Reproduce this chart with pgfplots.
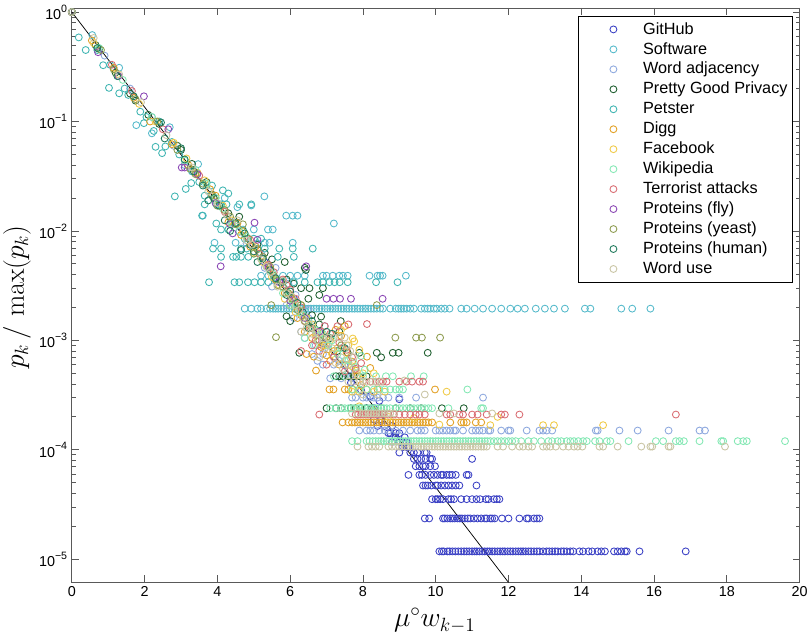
\documentclass[border=0pt]{standalone}
\usepackage[no-math]{fontspec}
\setmainfont{Liberation Sans}
\usepackage{pgfplots}
\pgfplotsset{compat=1.18}
\definecolor{cGit}{HTML}{3A40C4}
\definecolor{cSoft}{HTML}{55BACB}
\definecolor{cAdj}{HTML}{8DA8DE}
\definecolor{cPGP}{HTML}{1F5F30}
\definecolor{cPet}{HTML}{40B5B2}
\definecolor{cDigg}{HTML}{E2A024}
\definecolor{cFb}{HTML}{F0CA48}
\definecolor{cWiki}{HTML}{84E8B4}
\definecolor{cTer}{HTML}{D96C72}
\definecolor{cFly}{HTML}{8A46B4}
\definecolor{cYeast}{HTML}{8E9C50}
\definecolor{cHum}{HTML}{1F7A5C}
\definecolor{cUse}{HTML}{C9C5A4}
\newcommand{\ytl}[1]{10\raisebox{0.5em}{\footnotesize #1}}
\begin{document}
\begin{tikzpicture}
\path (-54pt,-40.5pt) rectangle (555pt,437.25pt);
\begin{axis}[
  at={(0,0)}, anchor=south west, scale only axis,
  width=546.75pt, height=431.25pt,
  ymode=log, xmin=0, xmax=20, ymin=6.2e-6, ymax=1.09,
  clip=false,
  axis line style={black!65, line width=0.7pt},
  tick style={black!65, line width=0.6pt},
  major tick length=5pt, minor tick length=2.8pt,
  tick align=inside, xtick pos=both, ytick pos=both,
  xtick={0,2,4,6,8,10,12,14,16,18,20},
  xticklabels={0,2,4,6,8,10,12,14,16,18,20},
  ytick={1e-5,1e-4,1e-3,1e-2,1e-1,1},
  yticklabels={\ytl{−5},\ytl{−4},\ytl{−3},\ytl{−2},\ytl{−1},\ytl{0}},
  ticklabel style={font=\fontsize{10.8}{12}\selectfont},
  xlabel={$\mu^{\circ} w_{k-1}$},
  ylabel={$p_k\,/\,\max(p_k)$},
  xlabel style={overlay, font=\fontsize{22.5}{26}\selectfont, at={(axis description cs:0.5,0)}, anchor=base, inner sep=0pt, yshift=-33.75pt, xshift=-0.75pt},
  ylabel style={overlay, font=\fontsize{22}{26}\selectfont, at={(axis description cs:0,0.5)}, anchor=base, inner sep=0pt, yshift=36pt, xshift=-1.5pt},
  legend cell align=left,
  legend style={at={(0.6955,0.986)}, anchor=north west, draw=black, line width=0.6pt,
    inner xsep=3.75pt, inner ysep=2.25pt, row sep=0pt, fill=white,
    nodes={inner sep=0pt, font=\fontsize{12.2}{14}\selectfont, text height=11pt, text depth=4pt}},
  legend image code/.code={\path (3.75pt,0pt) (48pt,0pt); \draw[#1] plot coordinates {(26pt,0pt)};},
  every axis plot/.append style={only marks, mark=o, mark size=2.6pt, line width=0.65pt},
]
\addplot[cGit] coordinates {
(10.1,1.18e-5)(10.17,1.18e-5)(10.22,1.18e-5)(10.32,1.18e-5)(10.38,1.18e-5)(10.46,1.18e-5)(10.54,1.18e-5)(10.62,1.18e-5)(10.7,1.18e-5)(10.78,1.18e-5)(10.85,1.18e-5)(10.92,1.18e-5)(11.0,1.18e-5)(11.07,1.18e-5)(11.13,1.18e-5)(11.2,1.18e-5)(11.28,1.18e-5)(11.35,1.18e-5)(11.42,1.18e-5)(11.48,1.18e-5)(11.55,1.18e-5)(11.62,1.18e-5)(11.7,1.18e-5)(11.77,1.18e-5)(11.84,1.18e-5)(11.9,1.18e-5)(11.98,1.18e-5)(12.05,1.18e-5)(12.12,1.18e-5)(12.2,1.18e-5)(12.27,1.18e-5)(12.34,1.18e-5)(12.4,1.18e-5)(12.47,1.18e-5)(12.55,1.18e-5)(12.62,1.18e-5)(12.7,1.18e-5)(12.78,1.18e-5)(12.85,1.18e-5)(12.95,1.18e-5)(13.05,1.18e-5)(13.12,1.18e-5)(13.2,1.18e-5)(13.28,1.18e-5)(13.35,1.18e-5)(13.45,1.18e-5)(13.52,1.18e-5)(13.6,1.18e-5)(13.7,1.18e-5)(13.78,1.18e-5)(13.95,1.18e-5)(14.05,1.18e-5)(14.2,1.18e-5)(14.3,1.18e-5)(14.45,1.18e-5)(14.55,1.18e-5)(14.65,1.18e-5)(14.9,1.18e-5)(15.0,1.18e-5)(15.1,1.18e-5)(15.2,1.18e-5)(15.25,1.18e-5)(15.6,1.18e-5)(16.87,1.18e-5)
(9.7,2.36e-5)(9.82,2.36e-5)(10.2,2.36e-5)(10.25,2.36e-5)(10.32,2.36e-5)(10.4,2.36e-5)(10.46,2.36e-5)(10.52,2.36e-5)(10.6,2.36e-5)(10.66,2.36e-5)(10.72,2.36e-5)(10.8,2.36e-5)(10.88,2.36e-5)(10.95,2.36e-5)(11.05,2.36e-5)(11.15,2.36e-5)(11.25,2.36e-5)(11.35,2.36e-5)(11.4,2.36e-5)(11.5,2.36e-5)(11.55,2.36e-5)(11.62,2.36e-5)(11.82,2.36e-5)(12.0,2.36e-5)(12.3,2.36e-5)(12.5,2.36e-5)(12.55,2.36e-5)(12.7,2.36e-5)(12.78,2.36e-5)(12.85,2.36e-5)
(9.9,3.54e-5)(10.0,3.54e-5)(10.05,3.54e-5)(10.12,3.54e-5)(10.2,3.54e-5)(10.35,3.54e-5)(10.42,3.54e-5)(10.5,3.54e-5)(10.7,3.54e-5)(10.85,3.54e-5)(11.0,3.54e-5)(11.12,3.54e-5)(11.22,3.54e-5)(11.38,3.54e-5)(11.45,3.54e-5)(11.6,3.54e-5)(11.68,3.54e-5)(11.75,3.54e-5)
(9.65,4.72e-5)(9.72,4.72e-5)(9.78,4.72e-5)(9.88,4.72e-5)(10.0,4.72e-5)(10.05,4.72e-5)(10.15,4.72e-5)(10.25,4.72e-5)(10.35,4.72e-5)(10.45,4.72e-5)(10.55,4.72e-5)(10.65,4.72e-5)(11.12,4.72e-5)
(9.25,5.9e-5)(9.55,5.9e-5)(9.62,5.9e-5)(9.72,5.9e-5)(9.85,5.9e-5)(9.95,5.9e-5)(10.05,5.9e-5)(10.15,5.9e-5)(10.2,5.9e-5)(10.3,5.9e-5)(10.38,5.9e-5)(10.45,5.9e-5)(10.55,5.9e-5)(10.85,5.9e-5)(10.9,5.9e-5)
(9.45,7.08e-5)(9.55,7.08e-5)(9.65,7.08e-5)(9.72,7.08e-5)(9.85,7.08e-5)(9.98,7.08e-5)
(9.4,8.26e-5)(9.5,8.26e-5)(9.6,8.26e-5)(9.72,8.26e-5)(9.85,8.26e-5)(9.9,8.26e-5)(11.0,8.26e-5)
(9.0,9.44e-5)(9.3,9.44e-5)(9.4,9.44e-5)(9.5,9.44e-5)(9.7,9.44e-5)(9.75,9.44e-5)
(9.1,1.06e-4)(9.2,1.06e-4)(9.25,1.06e-4)(8.8,1.18e-4)(9.0,1.18e-4)(9.1,1.18e-4)(9.2,1.18e-4)(8.9,1.3e-4)(9.15,1.3e-4)(8.7,1.42e-4)(8.75,1.42e-4)(8.9,1.42e-4)(9.0,1.42e-4)(8.4,1.65e-4)(8.6,1.65e-4)(8.8,1.65e-4)(8.3,1.9e-4)(8.5,1.9e-4)(8.1,2.4e-4)(8.3,2.4e-4)(8.45,2.8e-4)(9.0,2.9e-4)(8.2,3.1e-4)(7.95,3.5e-4)(7.67,4.1e-4)(7.65,4.7e-4)(7.5,5.9e-4)(7.2,7.1e-4)(6.9,9.4e-4)(6.7,1.2e-3)(6.3,1.8e-3)(6.1,2.4e-3)(5.7,3.5e-3)(5.3,5.2e-3)
};
\addlegendentry{GitHub}
\addplot[cSoft] coordinates {
(0.56,.617)(1.3,.31)(1.77,.0926)(2.2,.078)(2.69,.0887)(3.47,.0408)(5.29,.0207)(4.93,.0171)(3.6,.0138)(5.89,.0138)(6.07,.0138)(6.2,.0138)(7.2,.0117)
(4.75,1.95e-3)(4.93,1.95e-3)(5.1,1.95e-3)(5.2,1.95e-3)(5.35,1.95e-3)(5.45,1.95e-3)(5.53,1.95e-3)(5.6,1.95e-3)(5.67,1.95e-3)(5.75,1.95e-3)(5.82,1.95e-3)(5.9,1.95e-3)(5.98,1.95e-3)(6.05,1.95e-3)(6.12,1.95e-3)(6.2,1.95e-3)(6.28,1.95e-3)(6.35,1.95e-3)(6.42,1.95e-3)(6.5,1.95e-3)(6.57,1.95e-3)(6.65,1.95e-3)(6.72,1.95e-3)(6.8,1.95e-3)(6.87,1.95e-3)(6.95,1.95e-3)(7.02,1.95e-3)(7.1,1.95e-3)(7.17,1.95e-3)(7.24,1.95e-3)(7.32,1.95e-3)(7.4,1.95e-3)(7.47,1.95e-3)(7.55,1.95e-3)(7.62,1.95e-3)(7.7,1.95e-3)(7.77,1.95e-3)(7.85,1.95e-3)(7.92,1.95e-3)(8.0,1.95e-3)(8.07,1.95e-3)(8.14,1.95e-3)(8.22,1.95e-3)(8.3,1.95e-3)(8.38,1.95e-3)(8.47,1.95e-3)(8.55,1.95e-3)(8.75,1.95e-3)(8.9,1.95e-3)(8.98,1.95e-3)(9.05,1.95e-3)(9.12,1.95e-3)(9.2,1.95e-3)(9.3,1.95e-3)(9.4,1.95e-3)(9.6,1.95e-3)(9.7,1.95e-3)(9.78,1.95e-3)(9.85,1.95e-3)(9.95,1.95e-3)(10.03,1.95e-3)(10.15,1.95e-3)(10.25,1.95e-3)(10.38,1.95e-3)(10.7,1.95e-3)(10.85,1.95e-3)(11.07,1.95e-3)(11.3,1.95e-3)(11.55,1.95e-3)(11.8,1.95e-3)(12.05,1.95e-3)(12.25,1.95e-3)(12.45,1.95e-3)(12.75,1.95e-3)(13.0,1.95e-3)(13.25,1.95e-3)(13.55,1.95e-3)(14.1,1.95e-3)(14.25,1.95e-3)(15.1,1.95e-3)(15.4,1.95e-3)(15.9,1.95e-3)
(5.2,3.9e-3)(5.4,3.9e-3)(5.55,3.9e-3)(5.8,3.9e-3)(6.0,3.9e-3)(6.2,3.9e-3)(6.4,3.9e-3)(6.9,3.9e-3)(7.0,3.9e-3)(7.17,3.9e-3)(7.35,3.9e-3)(7.45,3.9e-3)(7.58,3.9e-3)(8.18,3.9e-3)(8.4,3.9e-3)(8.47,3.9e-3)(8.54,3.9e-3)(9.18,3.9e-3)
(3.92,.0078)(4.5,.0078)(5.3,.0078)(5.43,.0078)(6.07,.0078)(4.7,.0103)(5.0,.0103)(5.39,.0103)(5.52,.0103)(3.1,.04)(3.7,.026)(4.2,.02)(4.55,.0165)
};
\addlegendentry{Software}
\addplot[cAdj] coordinates {
(7.9,1.5e-4)(8.1,1.5e-4)(8.2,1.5e-4)(8.3,1.5e-4)(8.45,1.5e-4)(8.6,1.5e-4)(8.7,1.5e-4)(8.9,1.5e-4)(9.1,1.5e-4)(9.3,1.5e-4)(9.5,1.5e-4)(9.6,1.5e-4)(9.7,1.5e-4)(10.0,1.5e-4)(10.1,1.5e-4)(10.2,1.5e-4)(10.3,1.5e-4)(10.4,1.5e-4)(10.5,1.5e-4)(10.55,1.5e-4)(10.75,1.5e-4)(11.0,1.5e-4)(11.1,1.5e-4)(11.2,1.5e-4)(11.3,1.5e-4)(11.45,1.5e-4)(11.5,1.5e-4)(11.8,1.5e-4)(12.0,1.5e-4)(12.05,1.5e-4)(12.5,1.5e-4)(12.85,1.5e-4)(12.95,1.5e-4)(13.05,1.5e-4)(13.2,1.5e-4)(14.4,1.5e-4)(14.45,1.5e-4)(15.05,1.5e-4)(15.55,1.5e-4)(16.4,1.5e-4)(17.25,1.5e-4)(17.4,1.5e-4)
(7.7,3e-4)(7.8,3e-4)(8.0,3e-4)(8.1,3e-4)(8.2,3e-4)(8.3,3e-4)(8.4,3e-4)(8.55,3e-4)(8.7,3e-4)(9.0,3e-4)(9.46,3e-4)(11.3,3e-4)(7.1,4.5e-4)(7.4,4.5e-4)(7.7,4.5e-4)(6.9,6e-4)(7.2,6e-4)(7.5,6e-4)(6.6,7.5e-4)(6.9,7.5e-4)(6.7,9e-4)(7.0,9e-4)(6.3,1.2e-3)(6.7,1.2e-3)(6.1,1.6e-3)(6.5,1.6e-3)(5.9,2.1e-3)(6.3,2.1e-3)(5.5,3.1e-3)(5.8,3.1e-3)(5.3,4.6e-3)(5.6,4.6e-3)(4.8,7.7e-3)(5.1,7.7e-3)(4.4,.012)(3.9,.02)(3.3,.036)(2.8,.06)(2.2,.11)(1.6,.2)(0.9,.4)(0,1)
(6.4,1.05e-3)(6.75,6.5e-4)(7.05,8.3e-4)(7.35,6.5e-4)(7.6,5.2e-4)(6.95,1.35e-3)(6.5,1.9e-3)(6.15,2.6e-3)(5.95,3.3e-3)(5.2,6.2e-3)(4.6,.0098)
};
\addlegendentry{Word adjacency}
\addplot[cPGP] coordinates {
(0,1)(0.65,.5)(0.75,.46)(1.2,.28)(1.6,.18)(1.75,.155)(2.1,.115)(2.4,.095)(2.9,.06)(3.0,.055)(3.3,.041)(3.7,.028)(3.85,.0215)(4.3,.0145)(4.6,.0135)(4.7,.01)(5.1,.0075)(5.3,.0063)(5.5,.0055)(5.85,.0052)(5.9,.0036)(5.6,.0036)(6.1,.0033)(6.3,.003)(6.5,.0024)(6.6,.0017)(6.8,.0014)
(5.9,1.66e-3)(6.0,1.5e-3)(6.9,3e-3)(6.53,3e-3)(6.8,2.6e-3)(6.4,4.6e-3)(6.43,4.4e-3)(7.39,1.5e-3)(6.85,1.65e-3)(7.35,1.2e-3)(7.1,1.05e-3)(7.3,8e-4)(6.25,7.7e-4)(7.58,7.7e-4)(7.9,7.7e-4)(8.38,7.7e-4)(8.5,7e-4)(8.82,7.7e-4)(8.98,7.7e-4)(9.78,7.7e-4)
(7.26,4.7e-4)(7.35,4.7e-4)(7.45,4.7e-4)(7.6,4.7e-4)(7.75,4.7e-4)(7.9,4.7e-4)(8.1,4.7e-4)
(7.0,2.4e-4)(7.26,2.4e-4)(7.4,2.4e-4)(7.67,2.4e-4)(7.8,2.4e-4)(7.95,2.4e-4)(8.1,2.4e-4)(8.25,2.4e-4)(8.5,2.4e-4)(8.9,2.4e-4)(9.3,2.4e-4)(9.6,2.4e-4)(10.17,2.4e-4)(10.77,2.4e-4)
};
\addlegendentry{Pretty Good Privacy}
\addplot[cPet] coordinates {
(0.19,.587)(0.38,.45)(0.86,.327)(1.02,.203)(1.3,.181)(1.55,.175)(1.98,.0966)(1.88,.123)(2.3,.0587)(2.48,.0514)(2.57,.0592)(2.4,.1)(3.13,.0242)(2.83,.0207)(3.28,.0274)(0.7,.45)(1.05,.33)(1.45,.2)(2.05,.11)(2.25,.082)(2.75,.065)(2.95,.05)(3.3,.035)(3.5,.028)(3.65,.021)(3.85,.026)(3.95,.02)(4.1,.017)(4.3,.022)(4.15,.0235)
(3.65,.0175)(3.97,.0175)(4.1,.0175)(4.25,.0175)(4.6,.0175)(4.93,.0175)(3.58,.0138)(3.97,.0117)(4.47,.0117)(4.1,.0103)(4.3,.0103)
(3.88,.0069)(4.1,.0069)(4.65,.0069)(4.8,.0069)(5.1,.0069)(5.3,.0069)(5.7,.0069)(6.07,.0069)(6.62,.0069)(4.75,.0085)(5.0,.0085)(5.2,.0085)
(4.1,.0058)(4.43,.0058)(4.52,.0058)(4.65,.0058)(4.85,.0058)(5.66,.0058)(6.1,.0058)
(3.77,3.4e-3)(4.47,3.4e-3)(4.6,3.4e-3)(4.84,3.4e-3)(5.02,3.4e-3)(5.2,3.4e-3)(5.4,3.4e-3)(5.8,3.4e-3)(6.1,3.4e-3)(6.4,3.4e-3)(6.75,3.4e-3)(6.9,3.4e-3)(7.08,3.4e-3)(7.22,3.4e-3)(7.36,3.4e-3)(7.58,3.4e-3)(8.36,3.4e-3)(8.95,3.4e-3)
};
\addlegendentry{Petster}
\addplot[cDigg] coordinates {
(0,1)(0.55,.55)(1.15,.31)(1.7,.165)(2.15,.1)(2.75,.062)(3.2,.04)(3.8,.024)(4.3,.012)(4.9,.0072)(5.2,.0056)(5.6,.0036)(5.85,.0027)(6.1,.0023)(6.3,.0017)(6.5,.0014)(6.71,5.3e-4)(6.65,7.1e-4)(8.11,7.1e-4)(6.9,9e-4)(7.2,8e-4)(7.4,1.1e-3)(7.1,6.5e-4)(7.6,6e-4)(7.8,5.3e-4)
(3.45,.034)(3.95,.021)(4.55,.0118)(4.65,.0092)(5.05,.0072)(5.45,.0045)(5.75,.0034)(6.0,.0021)(6.2,.0016)(6.4,.0012)(6.6,1.05e-3)(6.85,8.7e-4)(7.0,7.3e-4)(7.35,6e-4)(7.55,7.8e-4)(7.7,6.4e-4)(7.25,1.25e-3)(6.45,7.5e-4)(6.75,1.2e-3)(7.5,1.35e-3)(7.85,4.8e-4)(7.95,3.9e-4)(8.2,5.6e-4)
(7.08,3.56e-4)(7.19,3.56e-4)(7.5,3.56e-4)(7.6,3.56e-4)(7.72,3.56e-4)(7.9,3.56e-4)(8.1,3.56e-4)(8.4,3.56e-4)(9.98,3.56e-4)
(7.44,1.78e-4)(7.6,1.78e-4)(7.7,1.78e-4)(7.78,1.78e-4)(7.85,1.78e-4)(7.92,1.78e-4)(8.0,1.78e-4)(8.07,1.78e-4)(8.14,1.78e-4)(8.22,1.78e-4)(8.3,1.78e-4)(8.37,1.78e-4)(8.45,1.78e-4)(8.52,1.78e-4)(8.6,1.78e-4)(8.67,1.78e-4)(8.75,1.78e-4)(8.82,1.78e-4)(8.9,1.78e-4)(8.98,1.78e-4)(9.05,1.78e-4)(9.12,1.78e-4)(9.2,1.78e-4)(9.27,1.78e-4)(9.35,1.78e-4)(9.42,1.78e-4)(9.5,1.78e-4)(9.57,1.78e-4)(9.65,1.78e-4)(9.72,1.78e-4)(9.8,1.78e-4)(9.9,1.78e-4)(10.4,1.78e-4)(10.7,1.78e-4)(10.77,1.78e-4)(10.85,1.78e-4)(11.1,1.78e-4)(11.25,1.78e-4)
};
\addlegendentry{Digg}
\addplot[cFb] coordinates {
(0,1)(0.6,.52)(1.25,.27)(1.85,.145)(2.3,.1)(2.8,.064)(3.4,.034)(3.9,.02)(4.4,.0125)(5.0,.0064)(5.35,.0048)(5.7,.0032)(6.0,.0026)(6.3,.0021)(6.6,.0014)(6.85,.0012)(7.1,1.0e-3)(7.3,8.5e-4)(7.72,1.04e-3)(7.76,9.8e-4)(7.55,6.6e-4)(7.8,5e-4)(8.0,5e-4)(8.3,5e-4)
(3.15,.046)(3.65,.029)(4.15,.017)(4.7,.0098)(4.95,.0075)(5.25,.0052)(5.5,.0038)(5.85,.0024)(6.15,.0018)(6.45,.0016)(6.7,1.1e-3)(6.95,9e-4)(7.15,7.5e-4)(7.4,1.25e-3)(7.6,9e-4)(7.9,8.2e-4)(7.7,5.8e-4)
(7.7,3.4e-4)(7.9,3.4e-4)(8.3,3.4e-4)(8.6,3.4e-4)(10.3,3.4e-4)(7.9,2.5e-4)(8.3,2.3e-4)(8.7,2e-4)(10.1,1.7e-4)(11.5,1.68e-4)(12.95,1.68e-4)(13.25,1.68e-4)(14.6,1.68e-4)(11.7,2e-4)(9.4,1.95e-4)
};
\addlegendentry{Facebook}
\addplot[cWiki] coordinates {
(0,1)(0.75,.47)(1.4,.24)(2.2,.11)(3.1,.044)(3.7,.027)(4.4,.0115)(4.8,.0088)(5.2,.0056)(5.5,.0042)(5.9,.0028)(6.1,.0022)(6.35,.0017)(6.6,.0013)(6.8,1.1e-3)(7.05,9e-4)(7.3,7.5e-4)(7.5,6.5e-4)(7.8,5.7e-4)
(3.4,.036)(3.95,.02)(4.15,.016)(4.6,.01)(5.0,.0062)(5.35,.0047)(5.65,.0036)(5.8,.0027)(6.0,.0021)(6.25,.0018)(6.5,.0015)(6.7,1.25e-3)(6.4,1.05e-3)(6.65,9e-4)(6.9,1.15e-3)(7.15,1.0e-3)(7.4,8.5e-4)(7.6,6.6e-4)(7.75,6.2e-4)(7.95,7.2e-4)(8.05,5.4e-4)
(7.2,4.7e-4)(7.5,4.7e-4)(8.0,4.7e-4)(8.36,4.7e-4)(8.63,4.7e-4)(8.82,4.7e-4)(9.32,4.7e-4)(9.67,4.7e-4)
(7.7,3.56e-4)(7.9,3.56e-4)(8.1,3.56e-4)(8.3,3.56e-4)(8.45,3.56e-4)(8.6,3.56e-4)(8.75,3.56e-4)(8.9,3.56e-4)(9.0,3.56e-4)(9.1,3.56e-4)(10.87,3.56e-4)
(7.1,2.4e-4)(7.25,2.4e-4)(7.4,2.4e-4)(7.5,2.4e-4)(7.6,2.4e-4)(7.68,2.4e-4)(7.75,2.4e-4)(7.83,2.4e-4)(7.9,2.4e-4)(7.97,2.4e-4)(8.05,2.4e-4)(8.13,2.4e-4)(8.2,2.4e-4)(8.27,2.4e-4)(8.35,2.4e-4)(8.42,2.4e-4)(8.5,2.4e-4)(8.57,2.4e-4)(8.65,2.4e-4)(8.75,2.4e-4)(8.9,2.4e-4)(9.0,2.4e-4)(9.1,2.4e-4)(9.2,2.4e-4)(9.3,2.4e-4)(9.4,2.4e-4)(9.5,2.4e-4)(9.6,2.4e-4)(9.7,2.4e-4)(9.8,2.4e-4)(9.9,2.4e-4)(10.35,2.4e-4)(11.25,2.4e-4)(11.3,2.4e-4)
(7.7,1.2e-4)(7.85,1.2e-4)(8.1,1.2e-4)(8.18,1.2e-4)(8.27,1.2e-4)(8.35,1.2e-4)(8.43,1.2e-4)(8.5,1.2e-4)(8.57,1.2e-4)(8.65,1.2e-4)(8.72,1.2e-4)(8.8,1.2e-4)(8.87,1.2e-4)(8.95,1.2e-4)(9.02,1.2e-4)(9.1,1.2e-4)(9.17,1.2e-4)(9.25,1.2e-4)(9.32,1.2e-4)(9.4,1.2e-4)(9.47,1.2e-4)(9.55,1.2e-4)(9.62,1.2e-4)(9.7,1.2e-4)(9.77,1.2e-4)(9.85,1.2e-4)(9.92,1.2e-4)(10.0,1.2e-4)(10.07,1.2e-4)(10.15,1.2e-4)(10.22,1.2e-4)(10.3,1.2e-4)(10.37,1.2e-4)(10.45,1.2e-4)(10.52,1.2e-4)(10.6,1.2e-4)(10.67,1.2e-4)(10.75,1.2e-4)(10.82,1.2e-4)(10.9,1.2e-4)(10.97,1.2e-4)(11.05,1.2e-4)(11.12,1.2e-4)(11.2,1.2e-4)(11.27,1.2e-4)(11.35,1.2e-4)(11.42,1.2e-4)(11.5,1.2e-4)(11.6,1.2e-4)(11.7,1.2e-4)(11.8,1.2e-4)(11.9,1.2e-4)(12.0,1.2e-4)(12.1,1.2e-4)(12.2,1.2e-4)(12.35,1.2e-4)(12.55,1.2e-4)(12.7,1.2e-4)(12.9,1.2e-4)(13.1,1.2e-4)(13.2,1.2e-4)(13.35,1.2e-4)(13.45,1.2e-4)(13.6,1.2e-4)(13.7,1.2e-4)(13.8,1.2e-4)(13.92,1.2e-4)(14.05,1.2e-4)(14.15,1.2e-4)(14.38,1.2e-4)(14.5,1.2e-4)(14.7,1.2e-4)(14.8,1.2e-4)(15.3,1.2e-4)(16.05,1.2e-4)(16.25,1.2e-4)(16.6,1.2e-4)(16.7,1.2e-4)(16.82,1.2e-4)(17.25,1.2e-4)(17.85,1.2e-4)(17.9,1.2e-4)(18.3,1.2e-4)(18.45,1.2e-4)(18.55,1.2e-4)(19.6,1.2e-4)
};
\addlegendentry{Wikipedia}
\addplot[cTer] coordinates {
(0,1)(1.1,.33)(1.65,.19)(2.5,.085)(3.5,.032)(4.2,.015)(4.9,.0083)(5.4,.0049)(5.8,.0036)(6.0,.0029)(6.3,.002)(6.55,.0013)(6.7,1.0e-3)(7.3,1.35e-3)(8.11,1.41e-3)(7.6,1.4e-3)(6.8,8e-4)(7.2,7e-4)(7.5,5.2e-4)(7.8,5.5e-4)
(5.15,.0062)(5.55,.0042)(5.9,.0032)(6.15,.0024)(6.4,.0015)(6.6,9e-4)(6.95,1.35e-3)(7.1,1.15e-3)(7.35,9.5e-4)(6.3,8e-4)(7.55,8.2e-4)(7.7,7e-4)(7.95,6.2e-4)(7.0,6e-4)
(8.0,4.2e-4)(8.2,4.2e-4)(8.35,4.2e-4)(8.45,4.2e-4)(8.55,4.2e-4)(8.65,4.2e-4)(9.0,4.2e-4)(9.2,4.2e-4)(9.35,4.2e-4)(9.55,4.2e-4)(9.65,4.2e-4)
(6.8,2.1e-4)(7.8,2.1e-4)(7.87,2.1e-4)(7.95,2.1e-4)(8.02,2.1e-4)(8.1,2.1e-4)(8.17,2.1e-4)(8.25,2.1e-4)(8.32,2.1e-4)(8.4,2.1e-4)(8.47,2.1e-4)(8.55,2.1e-4)(8.7,2.1e-4)(8.85,2.1e-4)(9.0,2.1e-4)(9.15,2.1e-4)(9.3,2.1e-4)(9.45,2.1e-4)(9.55,2.1e-4)(9.7,2.1e-4)(10.3,2.1e-4)(10.4,2.1e-4)(10.65,2.1e-4)(10.75,2.1e-4)(11.0,2.1e-4)(11.15,2.1e-4)(11.4,2.1e-4)(11.8,2.1e-4)(11.9,2.1e-4)(12.3,2.1e-4)(16.6,2.1e-4)
};
\addlegendentry{Terrorist attacks}
\addplot[cFly] coordinates {
(0,1)(0.72,.43)(1.28,.26)(1.98,.17)(2.65,.085)(3.02,.038)(3.1,.038)(3.45,.033)(3.95,.018)(4.35,.0115)(4.42,.0095)(5.02,.0119)(4.09,.00475)(5.1,.0083)(5.4,.0047)(5.7,.0034)(6.44,.00475)(6.0,.0023)(7.0,.0024)(7.19,.0024)(7.37,.0024)(7.67,.0024)(8.54,.0024)(6.4,.0016)(6.8,.0012)
};
\addlegendentry{Proteins (fly)}
\addplot[cYeast] coordinates {
(0,1)(0.8,.45)(1.15,.3)(1.75,.16)(2.35,.1)(2.9,.055)(3.25,.037)(3.85,.021)(4.2,.0155)(4.5,.0115)(4.7,.0115)(5.1,.0068)(5.45,.0047)(5.55,.0039)(5.8,.0031)(5.48,.0021)(5.95,.0027)(6.2,.0019)(6.4,.0015)(8.38,.0021)(5.61,1.07e-3)(8.89,1.06e-3)(9.46,1.06e-3)(9.62,1.06e-3)(10.12,1.06e-3)(7.0,1.07e-3)(7.4,9e-4)
(3.4,.033)(3.6,.027)(4.0,.017)(4.35,.0135)(4.85,.0085)(5.0,.0062)(5.25,.0058)(5.65,.0032)(6.05,.0024)(6.3,.0021)(6.6,.0013)(6.8,1e-3)
};
\addlegendentry{Proteins (yeast)}
\addplot[cHum] coordinates {
(0,1)(0.7,.47)(1.25,.26)(1.7,.17)(2.45,.098)(2.55,.07)(3.0,.057)(3.1,.045)(3.6,.026)(3.9,.02)(4.05,.017)(4.5,.0118)(4.75,.0095)(4.65,.0067)(5.0,.0065)(5.25,.0056)(5.45,.0044)(5.75,.0034)(6.0,.0028)(6.2,.0022)(6.35,.0018)(6.6,.0015)(7.0,.0012)
(3.35,.035)(3.75,.019)(4.2,.0125)(4.35,.01)(4.9,.0075)(5.6,.0037)(5.1,.0052)(5.9,.0026)(6.5,1.3e-3)(7.15,1.15e-3)(7.5,8.5e-4)
};
\addlegendentry{Proteins (human)}
\addplot[cUse] coordinates {
(0,1)(0.6,.58)(1.3,.27)(1.9,.15)(2.6,.075)(3.3,.038)(3.75,.023)(4.25,.014)(4.8,.0082)(5.2,.0055)(5.45,.0042)(5.65,.0031)(5.9,.0027)(6.15,.0021)(6.35,.0016)(6.55,.0014)(6.7,1.2e-3)(6.9,1.05e-3)(7.05,1.06e-3)(7.2,1.06e-3)(7.35,1.06e-3)(7.5,1.06e-3)(7.15,8.5e-4)(7.4,7e-4)(7.6,6e-4)(7.8,5e-4)
(4.0,.018)(4.55,.0125)(4.95,.0075)(5.35,.0047)(5.8,.0035)(6.05,.0025)(6.25,.0019)(6.45,.0013)(6.6,1.15e-3)(6.75,1e-3)(6.3,1.2e-3)(6.95,8.5e-4)(6.8,7e-4)(7.25,6.2e-4)(7.55,9e-4)(7.65,8e-4)(7.75,7e-4)(7.45,5.5e-4)
(7.6,4.2e-4)(7.75,4.2e-4)(7.9,4.2e-4)(8.0,4.2e-4)(8.1,4.2e-4)(8.25,4.2e-4)(8.35,4.2e-4)(8.5,4.2e-4)(9.14,4.3e-4)(8.0,3.2e-4)(8.4,3.2e-4)(9.7,3.2e-4)
(7.7,2.15e-4)(7.85,2.15e-4)(8.0,2.15e-4)(8.07,2.15e-4)(8.15,2.15e-4)(8.22,2.15e-4)(8.3,2.15e-4)(8.37,2.15e-4)(8.45,2.15e-4)(8.52,2.15e-4)(8.6,2.15e-4)(8.67,2.15e-4)(8.75,2.15e-4)(8.85,2.15e-4)(10.1,2.15e-4)(10.5,2.15e-4)(11.55,2.15e-4)
(7.85,1.07e-4)(8.15,1.07e-4)(8.25,1.07e-4)(8.35,1.07e-4)(8.45,1.07e-4)(8.7,1.07e-4)(8.8,1.07e-4)(8.9,1.07e-4)(9.0,1.07e-4)(9.07,1.07e-4)(9.15,1.07e-4)(9.22,1.07e-4)(9.3,1.07e-4)(9.37,1.07e-4)(9.45,1.07e-4)(9.52,1.07e-4)(9.6,1.07e-4)(9.67,1.07e-4)(9.75,1.07e-4)(9.82,1.07e-4)(9.9,1.07e-4)(9.97,1.07e-4)(10.05,1.07e-4)(10.12,1.07e-4)(10.2,1.07e-4)(10.27,1.07e-4)(10.35,1.07e-4)(10.42,1.07e-4)(10.5,1.07e-4)(10.57,1.07e-4)(10.65,1.07e-4)(10.72,1.07e-4)(10.8,1.07e-4)(10.87,1.07e-4)(10.95,1.07e-4)(11.02,1.07e-4)(11.1,1.07e-4)(11.17,1.07e-4)(11.25,1.07e-4)(11.32,1.07e-4)(11.4,1.07e-4)(11.7,1.07e-4)(11.85,1.07e-4)(12.1,1.07e-4)(12.3,1.07e-4)(12.4,1.07e-4)(12.55,1.07e-4)(12.65,1.07e-4)(12.95,1.07e-4)(13.05,1.07e-4)(13.15,1.07e-4)(13.3,1.07e-4)(13.5,1.07e-4)(13.65,1.07e-4)(13.8,1.07e-4)(13.9,1.07e-4)(14.03,1.07e-4)(14.5,1.07e-4)(14.6,1.07e-4)(15.0,1.07e-4)(15.65,1.07e-4)(15.9,1.07e-4)(15.95,1.07e-4)(16.4,1.07e-4)(16.45,1.07e-4)(17.95,1.07e-4)
};
\addlegendentry{Word use}
\addplot[black, no marks, sharp plot, line width=0.55pt, forget plot] coordinates {(0,1)(12,6.14e-6)};
\end{axis}
\end{tikzpicture}
\end{document}
